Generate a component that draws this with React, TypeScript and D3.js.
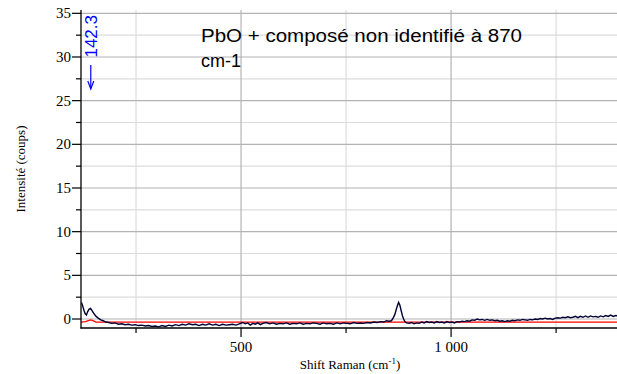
import React from "react";
import * as d3 from "d3";

const W = 617;
const H = 374;

const xTicksMajor = [500, 1000];
const xTicksMinor = [250, 750, 1250];
const xTickLabels = ["500", "1 000"];
const yTicksMajor = [0, 5, 10, 15, 20, 25, 30, 35];
const yTicksMinor = [2.5, 7.5, 12.5, 17.5, 22.5, 27.5, 32.5];

const shift = [
  120, 123, 126, 129, 132, 135, 138, 142, 146, 150, 155, 160, 166, 172, 178, 185, 192, 200, 208, 216,
  224, 232, 240, 248, 256, 264, 272, 280, 288, 296, 304, 312, 320, 328, 336, 344, 352, 360, 368, 376,
  384, 392, 400, 408, 416, 424, 432, 440, 448, 456, 464, 472, 480, 488, 496, 504, 510, 516, 522, 528,
  534, 540, 546, 552, 560, 568, 576, 584, 592, 600, 608, 616, 624, 632, 640, 648, 656, 664, 672, 680,
  688, 696, 704, 712, 720, 728, 736, 744, 752, 760, 768, 776, 784, 792, 800, 808, 816, 824, 832, 840,
  846, 852, 858, 862, 866, 869, 872, 875, 878, 881, 884, 887, 890, 894, 900, 906, 912, 918, 924, 930,
  936, 942, 948, 954, 960, 966, 972, 978, 984, 990, 996, 1002, 1008, 1014, 1020, 1026, 1032, 1038, 1044, 1050,
  1056, 1062, 1068, 1074, 1080, 1086, 1092, 1098, 1104, 1110, 1116, 1122, 1128, 1134, 1140, 1146, 1152, 1158, 1164, 1170,
  1176, 1182, 1188, 1194, 1200, 1206, 1212, 1218, 1224, 1230, 1236, 1242, 1248, 1254, 1260, 1266, 1272, 1278, 1284, 1290,
  1296, 1302, 1308, 1314, 1320, 1326, 1332, 1338, 1344, 1350, 1356, 1362, 1368, 1374, 1380, 1386, 1392, 1398,
];

const counts = [
  1.9, 1.5, 1.0, 0.6, 0.45, 0.85, 1.1, 1.2, 0.9, 0.6, 0.3, 0.1, -0.1, -0.2, -0.35, -0.4, -0.5, -0.45, -0.6, -0.55,
  -0.65, -0.6, -0.7, -0.65, -0.75, -0.7, -0.8, -0.75, -0.85, -0.8, -0.9, -0.75, -0.85, -0.7, -0.8, -0.65, -0.75, -0.6, -0.7, -0.55,
  -0.65, -0.6, -0.75, -0.6, -0.7, -0.55, -0.7, -0.6, -0.75, -0.6, -0.7, -0.65, -0.6, -0.7, -0.55, -0.4, -0.55, -0.45, -0.7, -0.5,
  -0.6, -0.45, -0.65, -0.5, -0.4, -0.55, -0.45, -0.6, -0.5, -0.55, -0.45, -0.6, -0.5, -0.55, -0.45, -0.6, -0.5, -0.55, -0.45, -0.5,
  -0.6, -0.45, -0.55, -0.5, -0.6, -0.45, -0.55, -0.45, -0.5, -0.55, -0.4, -0.5, -0.45, -0.5, -0.4, -0.45, -0.35, -0.4, -0.3, -0.35,
  -0.2, -0.25, -0.2, 0.1, 0.5, 1.0, 1.5, 1.9, 1.6, 1.0, 0.4, 0.0, -0.3, -0.45, -0.5, -0.4, -0.55, -0.45, -0.5, -0.35,
  -0.45, -0.3, -0.4, -0.35, -0.45, -0.3, -0.4, -0.35, -0.45, -0.3, -0.4, -0.35, -0.45, -0.3, -0.35, -0.25, -0.3, -0.2, -0.25, -0.1,
  -0.15, 0.0, -0.1, -0.05, -0.15, -0.05, -0.15, -0.1, -0.2, -0.15, -0.25, -0.2, -0.3, -0.2, -0.25, -0.15, -0.2, -0.1, -0.15, -0.05,
  -0.1, -0.15, -0.05, -0.1, 0.0, -0.05, 0.05, 0.0, 0.1, 0.0, 0.05, -0.05, 0.1, 0.15, 0.1, 0.2, 0.15, 0.25, 0.15, 0.2,
  0.3, 0.15, 0.3, 0.2, 0.35, 0.2, 0.35, 0.25, 0.3, 0.2, 0.35, 0.25, 0.4, 0.3, 0.45, 0.3, 0.4, 0.35,
];

const baseShift = [119, 130, 138, 142, 146, 155, 1398];
const baseCounts = [-0.35, -0.3, -0.15, -0.1, -0.15, -0.35, -0.35];

const peakLabel = "142.3";
const noteLine1 = "PbO + composé non identifié à 870";
const noteLine2 = "cm-1";

export default function App() {
  const x = d3.scaleLinear().domain([119, 1395]).range([81, 617]);
  const y = d3.scaleLinear().domain([-1.03, 35.38]).range([328, 10]);

  const spec = shift.map((s, i) => [s, counts[i]] as [number, number]);
  const base = baseShift.map((s, i) => [s, baseCounts[i]] as [number, number]);
  const line = d3
    .line<[number, number]>()
    .x((d) => x(d[0]))
    .y((d) => y(d[1]));

  const serif = "'Liberation Serif', 'Times New Roman', serif";
  const ax = x(142.3);

  return (
    <svg
      width={W}
      height={H}
      style={{ position: "absolute", left: 0, top: 0, background: "#fff" }}
    >
      <defs>
        <clipPath id="plot">
          <rect x={81} y={8} width={536} height={320} />
        </clipPath>
      </defs>
      {/* minor grid */}
      {yTicksMinor.map((t) => (
        <line key={"ym" + t} x1={81} x2={617} y1={y(t)} y2={y(t)} stroke="#dcdcdc" strokeWidth={1.2} />
      ))}
      {xTicksMinor.map((t) => (
        <line key={"xm" + t} x1={x(t)} x2={x(t)} y1={10} y2={328} stroke="#dcdcdc" strokeWidth={1.2} />
      ))}
      {/* major grid */}
      {yTicksMajor.map((t) => (
        <line key={"yM" + t} x1={81} x2={617} y1={y(t)} y2={y(t)} stroke="#b4b4b4" strokeWidth={1.2} />
      ))}
      {xTicksMajor.map((t) => (
        <line key={"xM" + t} x1={x(t)} x2={x(t)} y1={10} y2={328} stroke="#b4b4b4" strokeWidth={1.2} />
      ))}

      {/* data */}
      <g clipPath="url(#plot)">
        <path d={line(base) || ""} fill="none" stroke="#ff0000" strokeWidth={1.3} />
        <path d={line(spec) || ""} fill="none" stroke="#000033" strokeWidth={1.4} strokeLinejoin="miter" />
      </g>

      {/* axes */}
      <line x1={81} x2={81} y1={10} y2={328.5} stroke="#000" strokeWidth={1.3} />
      <line x1={80.5} x2={617} y1={328} y2={328} stroke="#000" strokeWidth={1.3} />
      {yTicksMajor.map((t) => (
        <g key={"yt" + t}>
          <line x1={72} x2={81} y1={y(t)} y2={y(t)} stroke="#000" strokeWidth={1.2} />
          <text x={71} y={y(t) + 5} textAnchor="end" fontFamily={serif} fontSize={15} fill="#000">
            {t}
          </text>
        </g>
      ))}
      {yTicksMinor.map((t) => (
        <line key={"ytm" + t} x1={76} x2={81} y1={y(t)} y2={y(t)} stroke="#000" strokeWidth={1.2} />
      ))}
      {xTicksMajor.map((t, i) => (
        <g key={"xt" + t}>
          <line x1={x(t)} x2={x(t)} y1={328} y2={337} stroke="#000" strokeWidth={1.2} />
          <text x={x(t)} y={352} textAnchor="middle" fontFamily={serif} fontSize={15} fill="#000">
            {xTickLabels[i]}
          </text>
        </g>
      ))}
      {xTicksMinor.map((t) => (
        <line key={"xtm" + t} x1={x(t)} x2={x(t)} y1={328} y2={333} stroke="#000" strokeWidth={1.2} />
      ))}

      {/* axis titles */}
      <text x={350} y={369} textAnchor="middle" fontFamily={serif} fontSize={13} fill="#000">
        Shift Raman (cm
        <tspan dy={-5} fontSize={9}>-1</tspan>
        <tspan dy={5}>)</tspan>
      </text>
      <text
        transform="translate(25,169) rotate(-90)"
        textAnchor="middle"
        fontFamily={serif}
        fontSize={13}
        fill="#000"
      >
        Intensité (coups)
      </text>

      {/* peak annotation */}
      <text
        transform={`translate(${ax + 6},15) rotate(-90)`}
        textAnchor="end"
        fontFamily="'Liberation Sans', Arial, sans-serif"
        fontSize={17}
        fill="#0000ff"
      >
        {peakLabel}
      </text>
      <line x1={ax} x2={ax} y1={65} y2={88} stroke="#0000ff" strokeWidth={1.2} />
      <path d={`M${ax - 3},81 L${ax},89 L${ax + 3},81`} fill="none" stroke="#0000ff" strokeWidth={1.2} />

      {/* note */}
      <text
        x={201}
        y={42}
        fontFamily="'Liberation Sans', Arial, sans-serif"
        fontSize={18}
        fill="#000"
        textLength={321}
        lengthAdjust="spacingAndGlyphs"
      >
        {noteLine1}
      </text>
      <text x={201} y={67} fontFamily="'Liberation Sans', Arial, sans-serif" fontSize={18} fill="#000">
        {noteLine2}
      </text>
    </svg>
  );
}
